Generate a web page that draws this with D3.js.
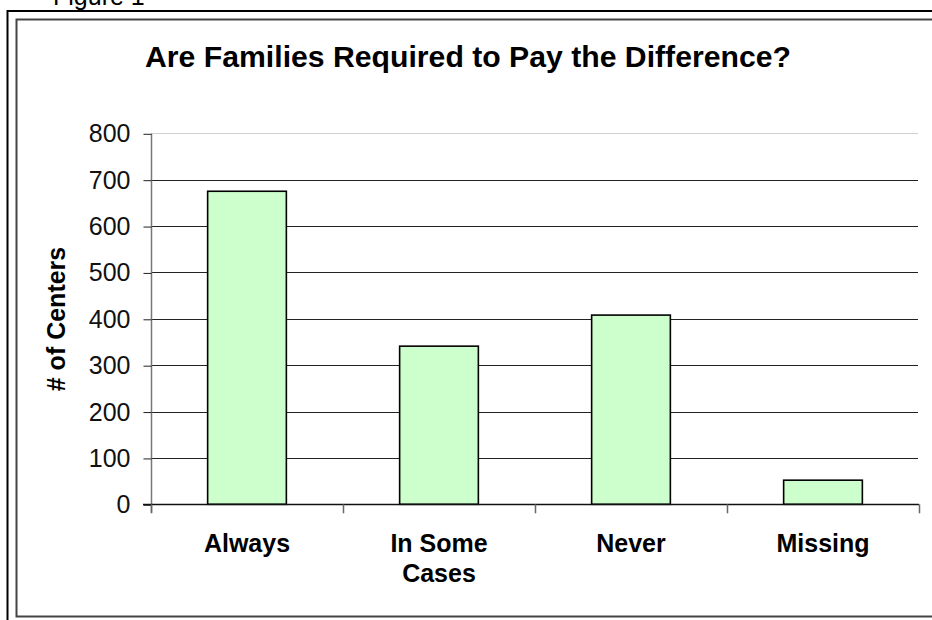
<!DOCTYPE html>
<html>
<head>
<meta charset="utf-8">
<script src="https://cdn.jsdelivr.net/npm/d3@7"></script>
<style>
  html, body { margin: 0; padding: 0; background: #fff; }
  svg { display: block; font-family: "Liberation Sans", Arial, sans-serif; }
</style>
</head>
<body>
<svg id="chart" width="932" height="620"></svg>
<script>
const categories = [["Always"], ["In Some", "Cases"], ["Never"], ["Missing"]];
const values = [675, 341, 408, 52];
const yTicks = [0, 100, 200, 300, 400, 500, 600, 700, 800];
const title = "Are Families Required to Pay the Difference?";
const yTitle = "# of Centers";
const figLabel = "Figure 1";

const svg = d3.select("#chart");
const plot = { left: 151, right: 919, top: 133.3, bottom: 504.3 };

// figure caption (cut at top, as in the reference)
svg.append("text").attr("x", 53).attr("y", 5)
  .attr("font-size", 25).attr("fill", "#000").text(figLabel);

// frames
svg.append("rect").attr("x", 7.5).attr("y", 11).attr("width", 940).attr("height", 630)
  .attr("fill", "none").attr("stroke", "#000").attr("stroke-width", 2);
svg.append("rect").attr("x", 16.5).attr("y", 19.5).attr("width", 930).attr("height", 597)
  .attr("fill", "#fff").attr("stroke", "#444").attr("stroke-width", 2);

const idx = categories.map((d, i) => i);
const x = d3.scaleBand().domain(idx).range([plot.left, plot.right])
  .paddingInner(0.59).paddingOuter(0.295);
const y = d3.scaleLinear().domain([0, 800]).range([plot.bottom, plot.top]);

// gridlines
svg.append("g").selectAll("line").data(yTicks.filter(t => t > 0)).join("line")
  .attr("x1", plot.left).attr("x2", plot.right - 1)
  .attr("y1", d => Math.round(y(d)) + 0.5).attr("y2", d => Math.round(y(d)) + 0.5)
  .attr("stroke", d => d === 800 ? "#d0d0d0" : "#222").attr("stroke-width", 1);

// y axis
const yAxis = d3.axisLeft(y).tickValues(yTicks).tickSize(8).tickPadding(13);
const gy = svg.append("g").attr("transform", `translate(${plot.left + 0.5},0.5)`).call(yAxis);
gy.select(".domain").attr("stroke", "#777").attr("stroke-width", 1.5).attr("d", `M0,${plot.top}V${plot.bottom + 8}`);
gy.selectAll(".tick line").attr("stroke", "#222");
gy.selectAll(".tick text").attr("font-size", 25).attr("fill", "#111")
  .attr("font-family", "'Liberation Sans', Arial, sans-serif");

// bars
svg.append("g").selectAll("rect").data(values).join("rect")
  .attr("x", (d, i) => x(i)).attr("y", d => y(d))
  .attr("width", x.bandwidth()).attr("height", d => y(0) - y(d))
  .attr("fill", "#ccffcc").attr("stroke", "#000").attr("stroke-width", 1.6);

// baseline
svg.append("line").attr("x1", plot.left - 8).attr("x2", plot.right)
  .attr("y1", Math.round(y(0)) + 0.5).attr("y2", Math.round(y(0)) + 0.5)
  .attr("stroke", "#111").attr("stroke-width", 1.3);

// x category boundary ticks
const step = x.step();
const bounds = d3.range(categories.length + 1).map(i => plot.left + i * step);
svg.append("g").selectAll("line").data(bounds).join("line")
  .attr("x1", d => Math.round(d) + 0.5).attr("x2", d => Math.round(d) + 0.5)
  .attr("y1", y(0)).attr("y2", y(0) + 9)
  .attr("stroke", "#666").attr("stroke-width", 1.5);

// x labels
const xl = svg.append("g").selectAll("text").data(categories).join("text")
  .attr("x", (d, i) => x(i) + x.bandwidth() / 2).attr("y", 552)
  .attr("text-anchor", "middle").attr("font-size", 25).attr("font-weight", "bold").attr("fill", "#000");
xl.each(function(d) {
  const t = d3.select(this);
  d.forEach((line, j) => t.append("tspan").attr("x", t.attr("x")).attr("dy", j === 0 ? 0 : 30).text(line));
});

// title
svg.append("text").attr("x", 468).attr("y", 67).attr("text-anchor", "middle")
  .attr("font-size", 30.2).attr("font-weight", "bold").attr("fill", "#000").text(title);

// y title
svg.append("text").attr("transform", "translate(65,319) rotate(-90)")
  .attr("text-anchor", "middle").attr("font-size", 25).attr("font-weight", "bold").attr("fill", "#000").text(yTitle);
</script>
</body>
</html>
